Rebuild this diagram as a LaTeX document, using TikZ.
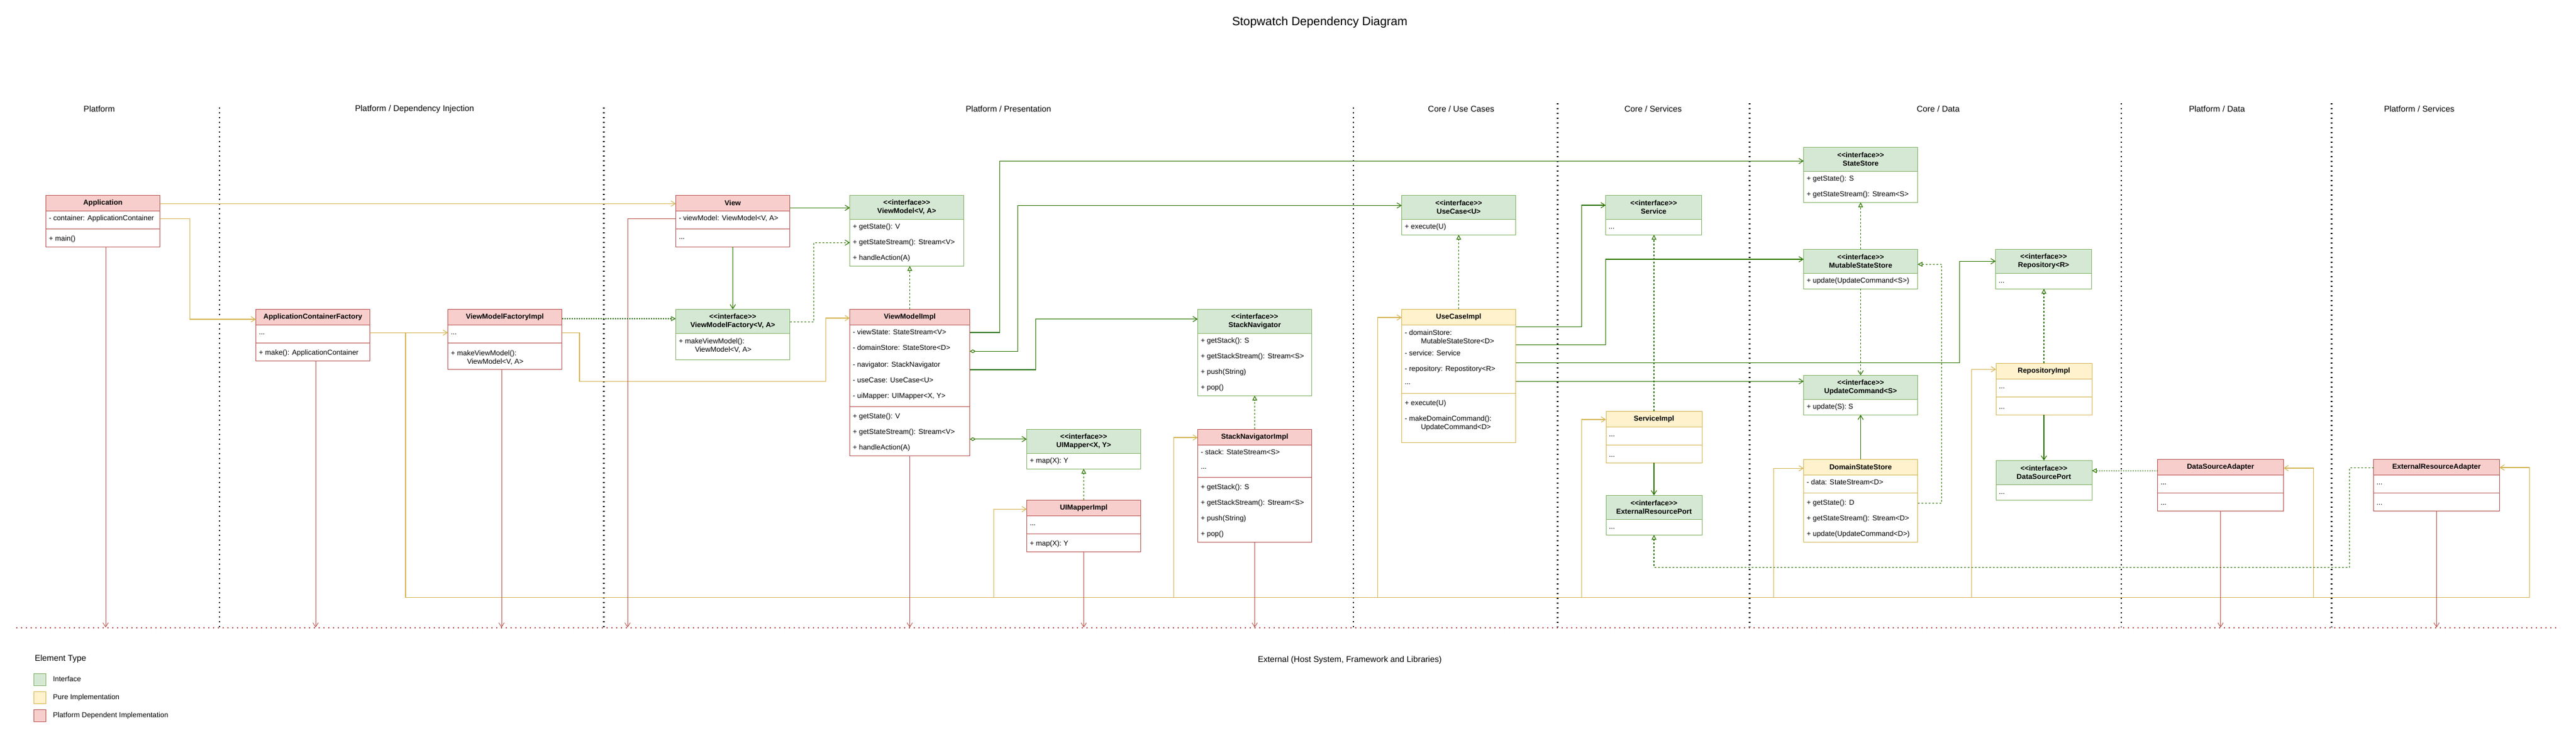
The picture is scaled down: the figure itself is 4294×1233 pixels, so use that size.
\documentclass[tikz,border=0pt]{standalone}
\usepackage{fontspec}
\setmainfont{Liberation Sans}
\usetikzlibrary{arrows.meta,fit}
\definecolor{gfill}{HTML}{D5E8D4}
\definecolor{gline}{HTML}{82B366}
\definecolor{yfill}{HTML}{FFF2CC}
\definecolor{yline}{HTML}{D6B656}
\definecolor{rfill}{HTML}{F8CECC}
\definecolor{rline}{HTML}{B85450}
\definecolor{cgreen}{HTML}{2D7600}
\newcommand\stereo{\mbox{<}\mbox{<}interface\mbox{>}\mbox{>}}
\newcommand\umlbox[9]{%
  \node[fit={(#3,#4) (#5,#6)}, fill=white] (#1) {};
  \fill[#2fill] (#3,#4) rectangle (#5,#7);
  \draw[#2line, boxline] (#3,#7) -- (#5,#7);
  \ifx\relax#8\relax\else\draw[#2line, boxline] (#3,#8) -- (#5,#8);\fi
  \draw[#2line, boxline] (#1.north west) rectangle (#1.south east);
  \node[hdr] (#1-t) at ({(#3+#5)/2},{(#4+#7)/2}) {#9};
}
\newcommand\mrow[4]{\node[mem] (#1) at (#2,#3) {#4};}
\begin{document}
\begin{tikzpicture}[x=1pt,y=-1pt,
  every node/.style={inner sep=0pt, outer sep=0pt},
  boxline/.style={line width=1pt},
  mem/.style={anchor=west, font=\fontsize{12}{14}\selectfont, text height=8.5pt, text depth=2.5pt},
  hdr/.style={font=\bfseries\fontsize{12}{14}\selectfont, align=center},
  lane/.style={font=\fontsize{14}{17}\selectfont},
  vsep/.style={black, line width=2.2pt, dash pattern=on 2.2pt off 5.8pt},
  cbase/.style={line width=1.1pt},
  tip/.style={-{Straight Barb[length=7pt,width=9pt]}},
  yconn/.style={cbase, draw=yline, tip},
  rconn/.style={cbase, draw=rline, line width=0.9pt, tip},
  gconn/.style={cbase, draw=cgreen, tip},
  gagg/.style={cbase, draw=cgreen, {Diamond[open,fill=white,length=10pt,width=6pt]}-{Straight Barb[length=7pt,width=9pt]}},
  gdep/.style={cbase, draw=cgreen, dash pattern=on 3pt off 3pt, tip},
  greal/.style={cbase, draw=cgreen, dash pattern=on 3pt off 3pt, -{Triangle[open,fill=white,length=8pt,width=8pt]}},
  grealdot/.style={greal, dash pattern=on 2pt off 2pt}
]
\fill[white] (0,0) rectangle (4294,1233);
\useasboundingbox (0,0) rectangle (4294,1233);

% title and lanes
\node[font=\fontsize{20}{24}\selectfont] (title) at (2200,37.5) {Stopwatch Dependency Diagram};
\node[lane] (l1) at (165.5,181.7) {Platform};
\node[lane] (l2) at (691,181.7) {Platform / Dependency Injection};
\node[lane] (l3) at (1681,181.7) {Platform / Presentation};
\node[lane] (l4) at (2435.7,181.7) {Core / Use Cases};
\node[lane] (l5) at (2755.6,181.7) {Core / Services};
\node[lane] (l6) at (3230.8,181.7) {Core / Data};
\node[lane] (l7) at (3695.4,181.7) {Platform / Data};
\node[lane] (l8) at (4032.7,181.7) {Platform / Services};

\draw[vsep] (366,179) -- (366,1045);
\draw[vsep] (1006.5,179) -- (1006.5,1045);
\draw[vsep] (2256,179) -- (2256,1045);
\draw[vsep] (2596.5,172) -- (2596.5,1045);
\draw[vsep] (2916.5,172) -- (2916.5,1045);
\draw[vsep] (3536,172) -- (3536,1045);
\draw[vsep] (3886.5,172) -- (3886.5,1045);
\draw[rline, line width=2.2pt, dash pattern=on 2.2pt off 5.8pt] (27,1046) -- (4267,1046);
\coordinate (ext) at (0,1045.5);
\node[lane] (extlabel) at (2250,1100) {External (Host System, Framework and Libraries)};

% legend
\node[lane, anchor=west] (legt) at (58,1098.3) {Element Type};
\node[fit={(56,1122) (76.5,1142)}, fill=gfill, draw=gline, boxline] (lg1) {};
\node[fit={(56,1152.3) (76.5,1172.3)}, fill=yfill, draw=yline, boxline] (lg2) {};
\node[fit={(56,1182.3) (76.5,1202.3)}, fill=rfill, draw=rline, boxline] (lg3) {};
\mrow{lgt1}{88.4}{1132.3}{Interface}
\mrow{lgt2}{88.4}{1162.5}{Pure Implementation}
\mrow{lgt3}{88.4}{1192.5}{Platform Dependent Implementation}

% ===== boxes =====
\umlbox{app}{r}{76.5}{325.3}{266.5}{411.3}{351.3}{381.3}{Application}
\mrow{app-1}{81.5}{364.3}{- container: ApplicationContainer}
\mrow{app-2}{81.5}{398.3}{+ main()}

\umlbox{acf}{r}{426.5}{515.3}{616.5}{601.3}{541.3}{571.3}{ApplicationContainerFactory}
\mrow{acf-1}{431.5}{554.3}{...}
\mrow{acf-2}{431.5}{588.3}{+ make(): ApplicationContainer}

\umlbox{vmfi}{r}{746.5}{515.3}{936.5}{615.3}{541.3}{571.3}{ViewModelFactoryImpl}
\mrow{vmfi-1}{751.5}{554.3}{...}
\mrow{vmfi-2}{751.5}{589}{+ makeViewModel():}
\mrow{vmfi-3}{778.5}{603}{ViewModel<V, A>}

\umlbox{view}{r}{1126.5}{325.3}{1316.5}{411.3}{351.3}{381.3}{View}
\mrow{view-1}{1131.5}{364.3}{- viewModel: ViewModel<V, A>}
\mrow{view-2}{1131.5}{395.3}{...}

\umlbox{vm}{g}{1416.5}{325.3}{1606.5}{443.3}{365.3}{}{\stereo\\ViewModel<V, A>}
\mrow{vm-1}{1421.5}{378.3}{+ getState(): V}
\mrow{vm-2}{1421.5}{404.3}{+ getStateStream(): Stream<V>}
\mrow{vm-3}{1421.5}{430.3}{+ handleAction(A)}

\umlbox{vmf}{g}{1126.5}{515.3}{1316.5}{599.3}{555.3}{}{\stereo\\ViewModelFactory<V, A>}
\mrow{vmf-1}{1131.5}{569}{+ makeViewModel():}
\mrow{vmf-2}{1158.5}{583}{ViewModel<V, A>}

\umlbox{vmi}{r}{1416.5}{515.3}{1616.5}{759.3}{541.3}{677.3}{ViewModelImpl}
\mrow{vmi-1}{1421.5}{554.3}{- viewState: StateStream<V>}
\mrow{vmi-2}{1421.5}{580.3}{- domainStore: StateStore<D>}
\mrow{vmi-3}{1421.5}{608.3}{- navigator: StackNavigator}
\mrow{vmi-4}{1421.5}{634.3}{- useCase: UseCase<U>}
\mrow{vmi-5}{1421.5}{660.3}{- uiMapper: UIMapper<X, Y>}
\mrow{vmi-6}{1421.5}{694.3}{+ getState(): V}
\mrow{vmi-7}{1421.5}{720.3}{+ getStateStream(): Stream<V>}
\mrow{vmi-8}{1421.5}{746.3}{+ handleAction(A)}

\umlbox{sn}{g}{1996.5}{515.3}{2186.5}{659.3}{555.3}{}{\stereo\\StackNavigator}
\mrow{sn-1}{2001.5}{568.3}{+ getStack(): S}
\mrow{sn-2}{2001.5}{594.3}{+ getStackStream(): Stream<S>}
\mrow{sn-3}{2001.5}{620.3}{+ push(String)}
\mrow{sn-4}{2001.5}{646.3}{+ pop()}

\umlbox{uim}{g}{1711.5}{715.3}{1901.5}{781.3}{755.3}{}{\stereo\\UIMapper<X, Y>}
\mrow{uim-1}{1716.5}{768.3}{+ map(X): Y}

\umlbox{uimi}{r}{1711.5}{833.3}{1901.5}{919.3}{859.3}{889.3}{UIMapperImpl}
\mrow{uimi-1}{1716.5}{872.3}{...}
\mrow{uimi-2}{1716.5}{906.3}{+ map(X): Y}

\umlbox{sni}{r}{1996.5}{715.3}{2186.5}{903.3}{741.3}{795.3}{StackNavigatorImpl}
\mrow{sni-1}{2001.5}{754.3}{- stack: StateStream<S>}
\mrow{sni-2}{2001.5}{778.3}{...}
\mrow{sni-3}{2001.5}{812.3}{+ getStack(): S}
\mrow{sni-4}{2001.5}{838.3}{+ getStackStream(): Stream<S>}
\mrow{sni-5}{2001.5}{864.3}{+ push(String)}
\mrow{sni-6}{2001.5}{890.3}{+ pop()}

\umlbox{uc}{g}{2336.5}{325.3}{2526.5}{391.3}{365.3}{}{\stereo\\UseCase<U>}
\mrow{uc-1}{2341.5}{378.3}{+ execute(U)}

\umlbox{uci}{y}{2336.5}{515.3}{2526.5}{737.3}{541.3}{655.3}{UseCaseImpl}
\mrow{uci-1}{2341.5}{555}{- domainStore:}
\mrow{uci-2}{2368.5}{569}{MutableStateStore<D>}
\mrow{uci-3}{2341.5}{589}{- service: Service}
\mrow{uci-4}{2341.5}{615}{- repository: Repostitory<R>}
\mrow{uci-5}{2341.5}{637.5}{...}
\mrow{uci-6}{2341.5}{672.5}{+ execute(U)}
\mrow{uci-7}{2341.5}{698.5}{- makeDomainCommand():}
\mrow{uci-8}{2368.5}{712.5}{UpdateCommand<D>}

\umlbox{svc}{g}{2676.5}{325.3}{2836.5}{391.3}{365.3}{}{\stereo\\Service}
\mrow{svc-1}{2681.5}{378.3}{...}

\umlbox{svci}{y}{2677}{685.3}{2837}{771.3}{711.3}{741.3}{ServiceImpl}
\mrow{svci-1}{2682}{724.3}{...}
\mrow{svci-2}{2682}{758.3}{...}

\umlbox{erp}{g}{2677}{825.3}{2837}{891.3}{865.3}{}{\stereo\\ExternalResourcePort}
\mrow{erp-1}{2682}{878.3}{...}

\umlbox{ss}{g}{3006.5}{245.3}{3196.5}{337.3}{285.3}{}{\stereo\\StateStore}
\mrow{ss-1}{3011.5}{298.3}{+ getState(): S}
\mrow{ss-2}{3011.5}{324.3}{+ getStateStream(): Stream<S>}

\umlbox{mss}{g}{3006.5}{415.3}{3196.5}{481.3}{455.3}{}{\stereo\\MutableStateStore}
\mrow{mss-1}{3011.5}{468.3}{+ update(UpdateCommand<S>)}

\umlbox{ucmd}{g}{3006.5}{625.3}{3196.5}{691.3}{665.3}{}{\stereo\\UpdateCommand<S>}
\mrow{ucmd-1}{3011.5}{678.3}{+ update(S): S}

\umlbox{dss}{y}{3006.5}{765.3}{3196.5}{903.3}{791.3}{821.3}{DomainStateStore}
\mrow{dss-1}{3011.5}{804.3}{- data: StateStream<D>}
\mrow{dss-2}{3011.5}{838.3}{+ getState(): D}
\mrow{dss-3}{3011.5}{864.3}{+ getStateStream(): Stream<D>}
\mrow{dss-4}{3011.5}{890.3}{+ update(UpdateCommand<D>)}

\umlbox{repo}{g}{3326.5}{415.3}{3486.5}{481.3}{455.3}{}{\stereo\\Repository<R>}
\mrow{repo-1}{3331.5}{468.3}{...}

\umlbox{repoi}{y}{3327}{605.3}{3487}{691.3}{631.3}{661.3}{RepositoryImpl}
\mrow{repoi-1}{3332}{644.3}{...}
\mrow{repoi-2}{3332}{678.3}{...}

\umlbox{dsp}{g}{3327}{767.3}{3487}{833.3}{807.3}{}{\stereo\\DataSourcePort}
\mrow{dsp-1}{3332}{820.3}{...}

\umlbox{dsa}{r}{3596.5}{765.3}{3806.5}{851.3}{791.3}{821.3}{DataSourceAdapter}
\mrow{dsa-1}{3601.5}{804.3}{...}
\mrow{dsa-2}{3601.5}{838.3}{...}

\umlbox{era}{r}{3956.5}{765.3}{4166.5}{851.3}{791.3}{821.3}{ExternalResourceAdapter}
\mrow{era-1}{3961.5}{804.3}{...}
\mrow{era-2}{3961.5}{838.3}{...}

% ===== yellow connectors =====
\draw[yconn] (app.east |- 0,339.3) -- (view.west |- 0,339.3);
\draw[yconn] (app.east |- 0,364.3) -| (316.5,532) -- (acf.west |- 0,532);
\draw[yconn] (acf.east |- 0,554.3) -- (vmfi.west |- 0,554.3);
\draw[yconn] (vmfi.east |- 0,554.3) -| (966,635.3) -| (1376.5,530) -- (vmi.west |- 0,530);
\draw[yconn] (acf.east |- 0,554.3) -| (676,995.3) -| (1656.5,848.3) -- (uimi.west |- 0,848.3);
\draw[yconn] (acf.east |- 0,554.3) -| (676,995.3) -| (1956.5,729) -- (sni.west |- 0,729);
\draw[yconn] (acf.east |- 0,554.3) -| (676,995.3) -| (2296.5,529) -- (uci.west |- 0,529);
\draw[yconn] (acf.east |- 0,554.3) -| (676,995.3) -| (2636.5,699) -- (svci.west |- 0,699);
\draw[yconn] (acf.east |- 0,554.3) -| (676,995.3) -| (2956.5,780.3) -- (dss.west |- 0,780.3);
\draw[yconn] (acf.east |- 0,554.3) -| (676,995.3) -| (3286.5,615.3) -- (repoi.west |- 0,615.3);
\draw[yconn] (acf.east |- 0,554.3) -| (676,995.3) -| (3856.5,780) -- (dsa.east |- 0,780);
\draw[yconn] (acf.east |- 0,554.3) -| (676,995.3) -| (4216.5,779) -- (era.east |- 0,779);

% ===== red connectors =====
\draw[rconn] (176,0 |- app.south) -- (176,0 |- ext);
\draw[rconn] (view.west |- 0,364.7) -| (1046,0 |- ext);
\draw[rconn] (526,0 |- acf.south) -- (526,0 |- ext);
\draw[rconn] (836,0 |- vmfi.south) -- (836,0 |- ext);
\draw[rconn] (vmi.south) -- (vmi.south |- ext);
\draw[rconn] (uimi.south) -- (uimi.south |- ext);
\draw[rconn] (sni.south) -- (sni.south |- ext);
\draw[rconn] (dsa.south) -- (dsa.south |- ext);
\draw[rconn] (era.south) -- (era.south |- ext);

% ===== green connectors =====
\draw[gconn] (view.east |- 0,346.3) -- (vm.west |- 0,346.3);
\draw[gconn] (view.south) -- (vmf.north);
\draw[gconn] (vmi.east |- 0,554) -| (1666.5,268.3) -- (ss.west |- 0,268.3);
\draw[gagg] (vmi.east |- 0,585.3) -| (1696.5,342.4) -- (uc.west |- 0,342.4);
\draw[gconn] (vmi.east |- 0,616) -| (1726.5,531.7) -- (sn.west |- 0,531.7);
\draw[gagg] (vmi.east |- 0,731.7) -- (uim.west |- 0,731.7);
\draw[gconn] (uci.east |- 0,544.7) -| (2636.5,342) -- (svc.west |- 0,342);
\draw[gconn] (uci.east |- 0,574.3) -| (2676.5,432) -- (mss.west |- 0,432);
\draw[gconn] (uci.east |- 0,604.3) -| (3266.5,435.3) -- (repo.west |- 0,435.3);
\draw[gconn] (uci.east |- 0,635.3) -- (ucmd.west |- 0,635.3);
\draw[gconn] (svci.south) -- (erp.north);
\draw[gconn] (dss.north) -- (ucmd.south);
\draw[gconn] (repoi.south) -- (dsp.north);

% dependencies (dashed)
\draw[gdep] (vmf.east |- 0,536.3) -| (1356.5,404.3) -- (vm.west |- 0,404.3);
\draw[gdep] (mss.south) -- (ucmd.north);

% realizations
\draw[grealdot] (vmfi.east |- 0,531) -- (vmf.west |- 0,531);
\draw[greal] (vmi.north) -- (vmi.north |- vm.south);
\draw[greal] (uimi.north) -- (uim.south);
\draw[greal] (sni.north) -- (sn.south);
\draw[greal] (uci.north) -- (uc.south);
\draw[greal] (svci.north) -- (svci.north |- svc.south);
\draw[greal] (mss.north) -- (ss.south);
\draw[greal] (dss.east |- 0,838.3) -| (3236.5,440.3) -- (mss.east |- 0,440.3);
\draw[greal] (repoi.north) -- (repoi.north |- repo.south);
\draw[grealdot] (dsa.west |- 0,784.3) -- (dsp.east |- 0,784.3);
\draw[greal] (era.west |- 0,779.3) -| (3916.5,945.3) -| (erp.south);
\end{tikzpicture}
\end{document}
